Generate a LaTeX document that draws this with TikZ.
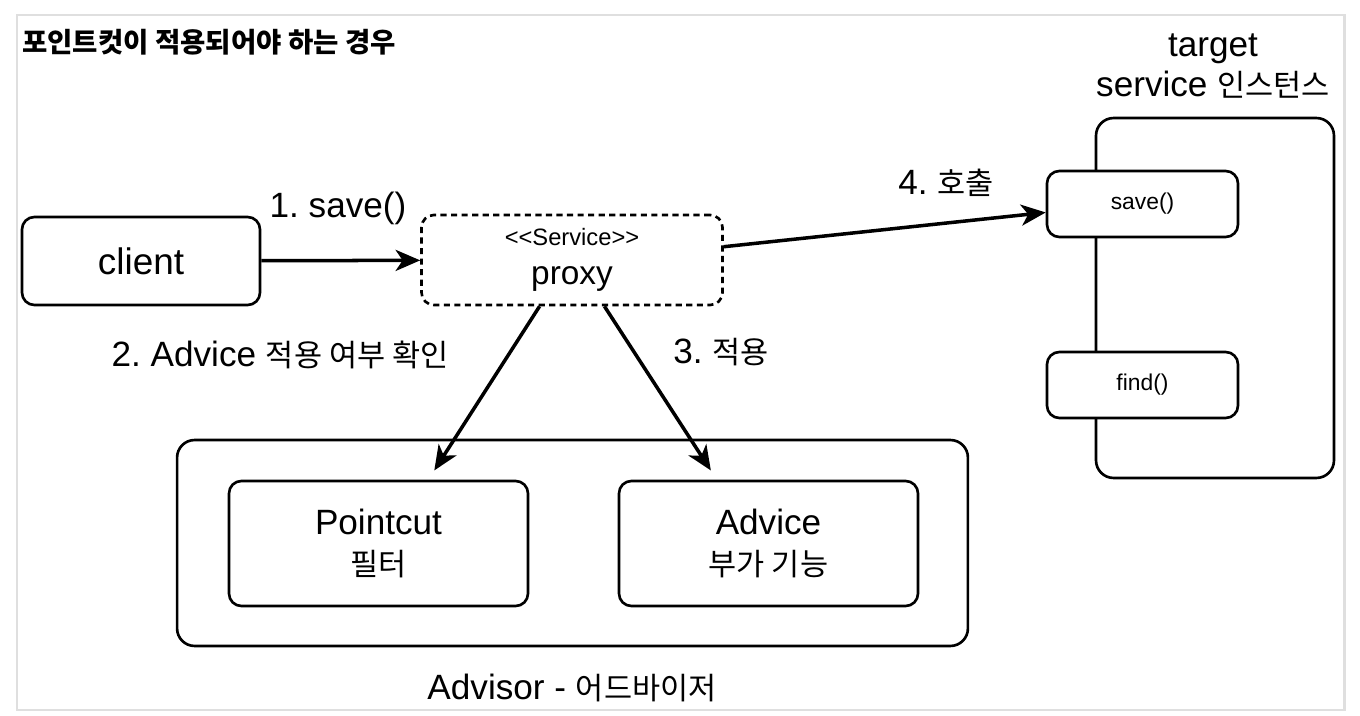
\documentclass[tikz,border=0pt]{standalone}
\usepackage{fontspec}
\setmainfont{Liberation Sans}
\newfontfamily\krfont[Scale=0.87]{Noto Sans CJK KR}
\usepackage{tikz}
\usetikzlibrary{arrows.meta,positioning}
\tikzset{
box/.style={draw, line width=1.5pt, rounded corners=7pt, inner sep=0pt}, % every rounded box
bigbox/.style={box, rounded corners=10pt},
lbl/.style={font=\fontsize{20}{23}\selectfont, inner sep=1pt},
small/.style={font=\fontsize{13}{15}\selectfont},
flow/.style={-{Stealth[length=14pt,width=12pt,inset=4pt]}, line width=2pt}, % the connectors
}
\frenchspacing

\begin{document}
\begin{tikzpicture}[x=0.02cm,y=-0.02cm]
        \useasboundingbox (0,0) rectangle (1360,716);
        \draw [gray!25, line width=1.7pt] (17,15) rectangle (1344,710);
        \node [anchor=west, inner sep=0pt] (title) at (22,42) {\fontsize{18}{22}\selectfont\krfont\bfseries 포인트컷이 적용되어야 하는 경우};
        % client and proxy
        \node [box, minimum width=4.76cm, minimum height=1.76cm, font=\fontsize{21}{25}\selectfont] (client) at (141,261) {client};
        \node [box, dash pattern=on 3.5pt off 2.5pt, minimum width=6.02cm, minimum height=1.8cm, align=center] (proxy) at (572,260)
                {{\fontsize{13.5}{16}\selectfont <\kern0pt<Service>\kern0pt>}\\[10pt]{\fontsize{19}{22}\selectfont proxy}};
        % target instance
        \node [bigbox, minimum width=4.76cm, minimum height=7.2cm] (target) at (1215,298) {};
        \node [lbl, align=center] (targetlbl) at (1213,66) {target\\service {\krfont 인스턴스}};
        \node [box, fill=white, small, minimum width=3.82cm, minimum height=1.32cm] (save) at (1142.5,204) {save()};
        \node [box, fill=white, small, minimum width=3.82cm, minimum height=1.32cm] (find) at (1142.5,385) {find()};
        % advisor
        \node [bigbox, minimum width=15.82cm, minimum height=4.12cm] (advisor) at (572.5,543) {};
        \node [box, lbl, align=center, minimum width=5.98cm, minimum height=2.5cm] (pointcut) at (378.5,543.5) {Pointcut\\{\krfont 필터}};
        \node [box, lbl, align=center, minimum width=5.98cm, minimum height=2.5cm] (advice) at (768.5,543.5) {Advice\\{\krfont 부가 기능}};
        \node [lbl] (advisorlbl) at (572,688) {Advisor - {\krfont 어드바이저}};
        % connectors
        \draw [flow] (client) -- (proxy);
        \draw [flow] (proxy.5) -- (save.185);
        \draw [flow, shorten >=0.22cm] (proxy.235) -- (pointcut.52);
        \draw [flow, shorten >=0.22cm] (proxy.305) -- (advice.129);
        \node [lbl] (step1) at (338,208) {1. save()};
        \node [lbl] (step2) at (280,355) {2. Advice {\krfont 적용 여부 확인}};
        \node [lbl] (step3) at (721,352) {3. {\krfont 적용}};
        \node [lbl] (step4) at (946,183) {4. {\krfont 호출}};
\end{tikzpicture}
\end{document}
